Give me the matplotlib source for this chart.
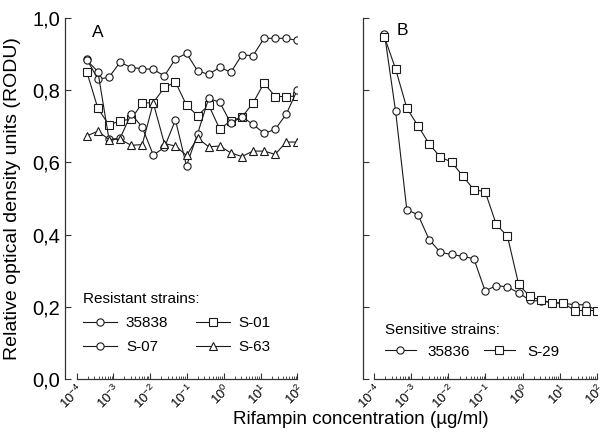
import numpy as np
import matplotlib.pyplot as plt
from matplotlib.ticker import LogLocator, FixedLocator, NullFormatter

plt.rcParams['font.family'] = ['Liberation Sans', 'DejaVu Sans']
plt.rcParams['mathtext.default'] = 'regular'

# two-fold dilution series of rifampin (ug/ml), 20 points
conc = 100.0 / 2.0 ** np.arange(19, -1, -1)

# panel A - resistant strains
r_35838 = [0.885, 0.830, 0.835, 0.877, 0.862, 0.859, 0.857, 0.839, 0.886, 0.901,
           0.853, 0.843, 0.863, 0.849, 0.897, 0.895, 0.943, 0.943, 0.943, 0.937]
r_s01 = [0.850, 0.749, 0.703, 0.715, 0.719, 0.764, 0.765, 0.807, 0.822, 0.758,
         0.729, 0.758, 0.692, 0.715, 0.725, 0.764, 0.819, 0.782, 0.782, 0.783]
r_s07 = [0.882, 0.851, 0.664, 0.666, 0.734, 0.697, 0.620, 0.641, 0.717, 0.590,
         0.679, 0.777, 0.766, 0.708, 0.726, 0.705, 0.680, 0.691, 0.733, 0.800]
r_s63 = [0.673, 0.686, 0.663, 0.664, 0.647, 0.649, 0.764, 0.652, 0.645, 0.619,
         0.667, 0.643, 0.645, 0.626, 0.616, 0.631, 0.631, 0.622, 0.656, 0.656]

# panel B - sensitive strains
s_35836 = [0.956, 0.741, 0.469, 0.455, 0.386, 0.351, 0.345, 0.340, 0.333, 0.244,
           0.259, 0.255, 0.239, 0.218, 0.216, 0.212, 0.210, 0.206, 0.206, 0.190]
s_s29 = [0.947, 0.858, 0.750, 0.701, 0.651, 0.614, 0.601, 0.562, 0.524, 0.519,
         0.428, 0.395, 0.262, 0.229, 0.218, 0.212, 0.210, 0.190, 0.190, 0.190]

yticks = [0.0, 0.2, 0.4, 0.6, 0.8, 1.0]
ytick_labels = ["0,0", "0,2", "0,4", "0,6", "0,8", "1,0"]
xticks = [1e-4, 1e-3, 1e-2, 1e-1, 1e0, 1e1, 1e2]
xtick_labels = [r"$10^{-4}$", r"$10^{-3}$", r"$10^{-2}$", r"$10^{-1}$",
                r"$10^{0}$", r"$10^{1}$", r"$10^{2}$"]

W, H = 610, 442
fig = plt.figure(figsize=(W / 100, H / 100), dpi=100)

ax_a = fig.add_axes([76.5 / W, (H - 379.2) / H, 220.8 / W, 361.5 / H])
ax_b = fig.add_axes([374 / W, (H - 379.2) / H, 223 / W, 361.5 / H])

ink = "#1a1a1a"
style = dict(color=ink, lw=0.8, markersize=5.2, markerfacecolor="white",
             markeredgecolor=ink, markeredgewidth=0.8)


def setup(ax, show_ylabels):
    ax.set_xscale("log")
    ax.set_xlim(1e-4, 1e2)
    ax.set_ylim(0, 1.0)
    for s in ["top", "right"]:
        ax.spines[s].set_visible(False)
    ax.spines["left"].set_position(("outward", 8))
    ax.spines["left"].set_bounds(0, 1.0)
    for s in ["left", "bottom"]:
        ax.spines[s].set_linewidth(0.9)
        ax.spines[s].set_color("#333333")
    ax.xaxis.set_major_locator(FixedLocator(xticks))
    ax.xaxis.set_minor_locator(LogLocator(base=10, subs=np.arange(2, 10), numticks=20))
    ax.xaxis.set_minor_formatter(NullFormatter())
    ax.set_xticks(xticks)
    ax.set_xticklabels(xtick_labels, rotation=45, ha="right", va="top",
                       rotation_mode="anchor", fontsize=9.5)
    ax.set_yticks(yticks)
    if show_ylabels:
        ax.set_yticklabels(ytick_labels, fontsize=14.5)
    else:
        ax.set_yticklabels([])
    ax.tick_params(axis="both", which="major", direction="in", length=4.5,
                   width=0.8, color="#333333")
    ax.tick_params(axis="x", which="minor", direction="in", length=2.4,
                   width=0.6, color="#333333")
    ax.tick_params(axis="x", which="major", pad=2)
    ax.tick_params(axis="y", which="major", pad=4)


setup(ax_a, True)
setup(ax_b, False)

# panel A
h1, = ax_a.plot(conc, r_35838, marker="o", label="35838", **style)
h2, = ax_a.plot(conc, r_s01, marker="s", label="S-01", **style)
h3, = ax_a.plot(conc, r_s07, marker="o", label="S-07", **style)
h4, = ax_a.plot(conc, r_s63, marker="^", label="S-63", **style)

ax_a.text(0.07, 0.947, "A", transform=ax_a.transAxes, fontsize=12.5,
          ha="left", va="baseline")

leg_a = ax_a.legend(handles=[h1, h3, h2, h4], ncol=2, title="Resistant strains:",
                    loc="upper left", bbox_to_anchor=(0.03, 0.24), frameon=False,
                    fontsize=11, title_fontsize=11, borderpad=0, borderaxespad=0,
                    handlelength=2.2, handletextpad=0.6, columnspacing=1.8,
                    labelspacing=0.65, alignment="left")

# panel B
g1, = ax_b.plot(conc, s_35836, marker="o", label="35836", **style)
g2, = ax_b.plot(conc, s_s29, marker="s", label="S-29", **style)

ax_b.text(0.102, 0.952, "B", transform=ax_b.transAxes, fontsize=12.5,
          ha="left", va="baseline")

leg_b = ax_b.legend(handles=[g1, g2], ncol=2, title="Sensitive strains:",
                    loc="upper left", bbox_to_anchor=(0.05, 0.155), frameon=False,
                    fontsize=11, title_fontsize=11, borderpad=0, borderaxespad=0,
                    handlelength=2.0, handletextpad=0.8, columnspacing=0.9,
                    labelspacing=0.5, alignment="left")

fig.text(13 / W, 1 - 199 / H, "Relative optical density units (RODU)",
         rotation=90, ha="center", va="center", fontsize=14)
fig.text(361 / W, 1 - 419 / H, "Rifampin concentration (\u00b5g/ml)",
         ha="center", va="center", fontsize=13.5)

fig.savefig("out.png", dpi=100)
